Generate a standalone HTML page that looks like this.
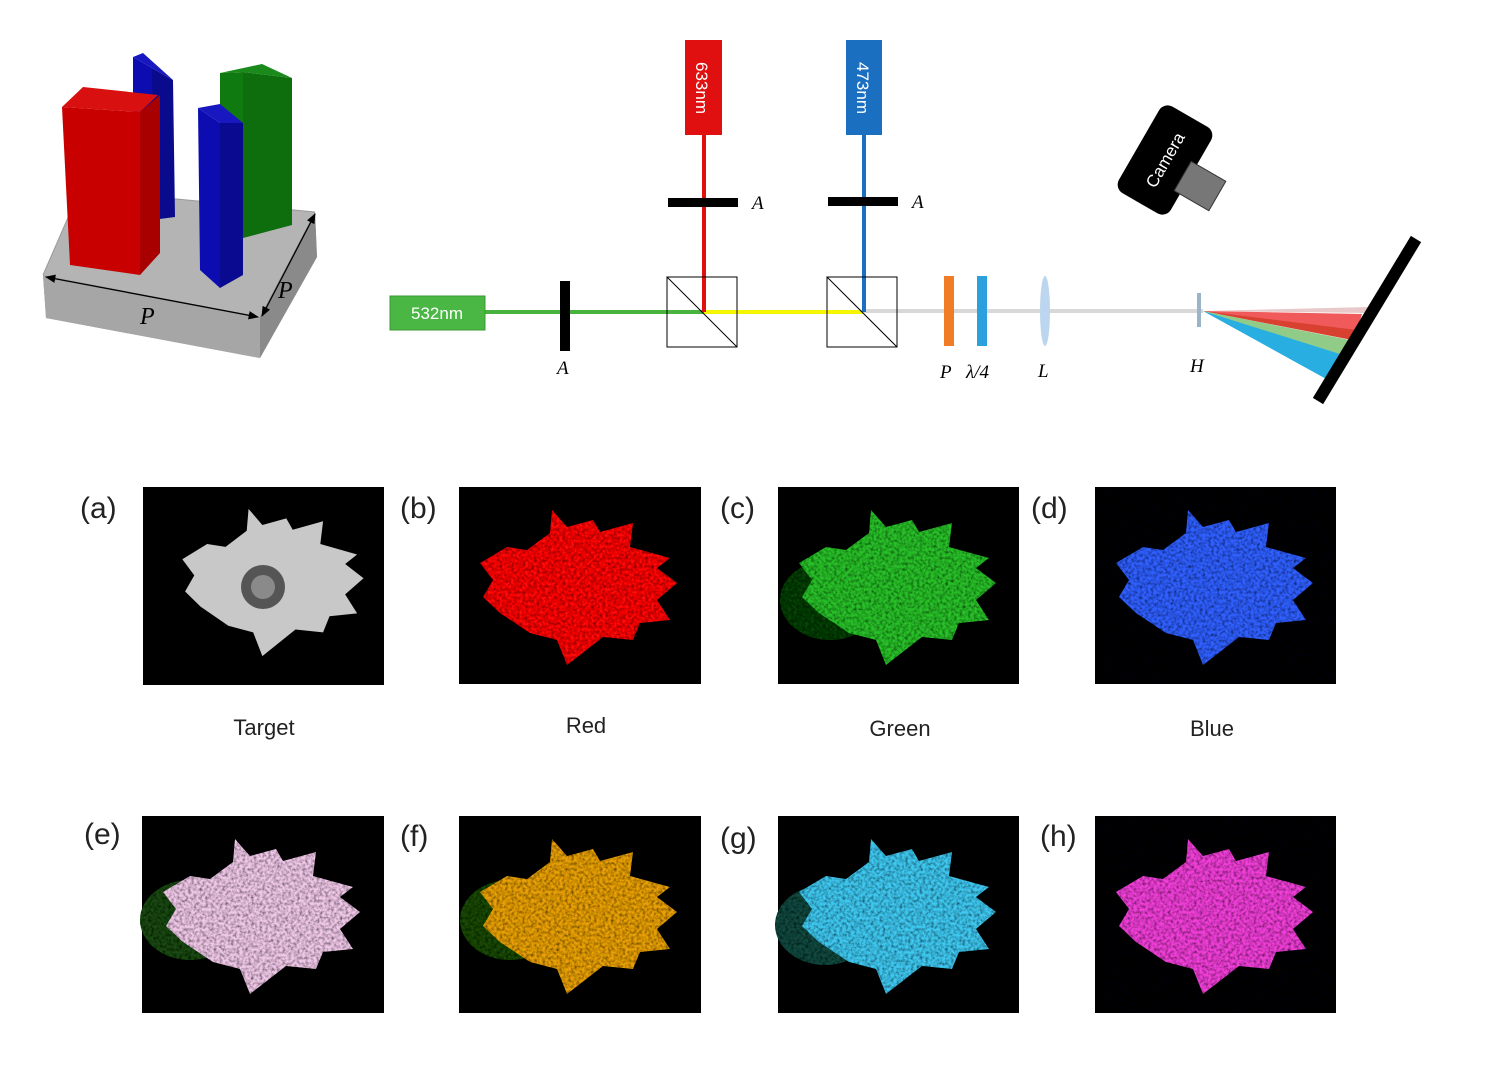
<!DOCTYPE html>
<html><head><meta charset="utf-8"><style>
html,body{margin:0;padding:0;background:#fff;width:1500px;height:1082px;overflow:hidden}
svg{display:block}
</style></head><body>
<svg width="1500" height="1082" viewBox="0 0 1500 1082" xmlns="http://www.w3.org/2000/svg" font-family="Liberation Sans, sans-serif">
<defs>
<path id="fl" d="M93,23 L108,40 L134,33 L141,45 L174,36 L171,60 L211,71 L198,81 L218,96 L198,113 L211,133 L181,136 L174,153 L144,150 L108,178 L98,153 L71,146 L41,126 L24,110 L34,93 L21,76 L48,60 L68,63 L91,46 Z"/>
<filter id="nz" x="0" y="0" width="100%" height="100%">
<feTurbulence type="fractalNoise" baseFrequency="0.35" numOctaves="2" seed="3" result="t"/>
<feColorMatrix in="t" type="matrix" values="0 0 0 0 0  0 0 0 0 0  0 0 0 0 0  0 0 0 1.6 -0.55" result="m"/>
<feComposite in="m" in2="SourceGraphic" operator="in" result="d"/>
<feMerge><feMergeNode in="SourceGraphic"/><feMergeNode in="d"/></feMerge>
</filter>
<marker id="ar" viewBox="0 0 10 10" refX="9" refY="5" markerWidth="8" markerHeight="8" orient="auto-start-reverse"><path d="M0,1 L10,5 L0,9 Z" fill="#000"/></marker>
</defs>

<!-- metasurface unit -->
<polygon points="43,275 80,190 315,212 317,257 260,358 46,318" fill="#9a9a9a"/>
<polygon points="43,275 80,190 315,212 260,317" fill="#b4b4b4"/>
<polygon points="43,275 260,317 260,358 46,318" fill="#a6a6a6"/>
<polygon points="260,317 315,212 317,257 260,358" fill="#8a8a8a"/>
<polyline points="43,275 80,190 315,212" fill="none" stroke="#999" stroke-width="1"/>
<!-- back blue -->
<polygon points="133,57 152,68 152,220 133,215" fill="#0c0cb0"/>
<polygon points="152,68 173,80 175,217 152,220" fill="#0a0a8c"/>
<polygon points="133,57 143,53 173,80 152,68" fill="#1818c0"/>
<!-- green -->
<polygon points="220,73 243,72 243,238 220,238" fill="#0f7a0f"/>
<polygon points="243,72 292,78 292,225 243,238" fill="#0e6e0e"/>
<polygon points="220,73 262,64 292,78 243,72" fill="#1a8a1a"/>
<!-- red -->
<polygon points="62,107 140,112 140,275 70,265" fill="#c80000"/>
<polygon points="140,112 160,95 160,253 140,275" fill="#a80000"/>
<polygon points="62,107 83,87 158,95 140,112" fill="#d81010"/>
<!-- front blue -->
<polygon points="198,108 220,123 220,288 200,270" fill="#0c0cb0"/>
<polygon points="220,123 243,123 243,275 220,288" fill="#0a0a90"/>
<polygon points="198,108 220,104 243,123 220,123" fill="#1818c0"/>
<!-- dims -->
<line x1="46" y1="277" x2="258" y2="317" stroke="#000" stroke-width="1.3" marker-start="url(#ar)" marker-end="url(#ar)"/>
<line x1="262" y1="316" x2="315" y2="214" stroke="#000" stroke-width="1.3" marker-start="url(#ar)" marker-end="url(#ar)"/>
<text x="140" y="324" font-family="Liberation Serif, serif" font-style="italic" font-size="24">P</text>
<text x="278" y="298" font-family="Liberation Serif, serif" font-style="italic" font-size="24">P</text>

<!-- optics -->
<line x1="485" y1="312" x2="704" y2="312" stroke="#49b33f" stroke-width="4"/>
<line x1="704" y1="312" x2="864" y2="312" stroke="#f5f500" stroke-width="4"/>
<line x1="864" y1="311" x2="1203" y2="311" stroke="#d8d8d8" stroke-width="4"/>
<line x1="704" y1="135" x2="704" y2="312" stroke="#e01010" stroke-width="4"/>
<line x1="864" y1="135" x2="864" y2="312" stroke="#1a6fc0" stroke-width="4"/>
<rect x="390" y="296" width="95" height="34" fill="#4ab744" stroke="#3a9a35"/>
<text x="437" y="319" font-size="17" fill="#fff" text-anchor="middle">532nm</text>
<rect x="685" y="40" width="37" height="95" fill="#e01010"/>
<text transform="translate(696,88) rotate(90)" font-size="17" fill="#fff" text-anchor="middle">633nm</text>
<rect x="846" y="40" width="36" height="95" fill="#1a6fc0"/>
<text transform="translate(857,88) rotate(90)" font-size="17" fill="#fff" text-anchor="middle">473nm</text>
<rect x="560" y="281" width="10" height="70" fill="#000"/>
<rect x="668" y="198" width="70" height="9" fill="#000"/>
<rect x="828" y="197" width="70" height="9" fill="#000"/>
<g font-family="Liberation Serif, serif" font-style="italic" font-size="19">
<text x="557" y="374">A</text><text x="752" y="209">A</text><text x="912" y="208">A</text>
<text x="940" y="378">P</text><text x="966" y="378">λ/4</text><text x="1038" y="377">L</text><text x="1190" y="372">H</text>
</g>
<rect x="667" y="277" width="70" height="70" fill="none" stroke="#000"/>
<line x1="667" y1="277" x2="737" y2="347" stroke="#000"/>
<rect x="827" y="277" width="70" height="70" fill="none" stroke="#000"/>
<line x1="827" y1="277" x2="897" y2="347" stroke="#000"/>
<rect x="944" y="276" width="10" height="70" fill="#f07c28"/>
<rect x="977" y="276" width="10" height="70" fill="#2aa0dc"/>
<ellipse cx="1045" cy="311" rx="5" ry="35" fill="#bcd6ef"/>
<rect x="1197" y="293" width="4" height="34" fill="#9ab4c8"/>
<!-- fan -->
<polygon points="1203,311 1370,307 1368,313" fill="#e8c8c8"/>
<polygon points="1203,311 1362,314 1354,340" fill="#f05a5a"/>
<polygon points="1203,311 1357,330 1352,340" fill="#d84030"/>
<polygon points="1203,311 1350,340 1343,356" fill="#90cc88"/>
<polygon points="1203,311 1343,355 1328,380" fill="#28aee0"/>
<line x1="1416" y1="239" x2="1318" y2="401" stroke="#000" stroke-width="12"/>
<!-- camera -->
<g transform="translate(1165,160) rotate(-60)">
<rect x="-50" y="-30" width="100" height="60" rx="10" fill="#000"/>
<text x="0" y="6" font-size="17" fill="#fff" text-anchor="middle">Camera</text>
</g>
<g transform="translate(1200,186) rotate(30)"><rect x="-20" y="-17" width="40" height="34" fill="#777" stroke="#333"/></g>

<!-- panels -->
<g font-size="30" fill="#222">
<text x="80" y="518">(a)</text><text x="400" y="518">(b)</text><text x="720" y="518">(c)</text><text x="1031" y="518">(d)</text>
<text x="84" y="844">(e)</text><text x="400" y="846">(f)</text><text x="720" y="848">(g)</text><text x="1040" y="846">(h)</text>
</g>
<g font-size="22" fill="#222" text-anchor="middle">
<text x="264" y="735">Target</text><text x="586" y="733">Red</text><text x="900" y="736">Green</text><text x="1212" y="736">Blue</text>
</g>

<!-- (a) -->
<rect x="143" y="487" width="241" height="198" fill="#000"/>
<g transform="translate(143,487)">
<use href="#fl" transform="translate(20,0) scale(0.92,0.95)" fill="#c8c8c8"/>
<circle cx="120" cy="100" r="22" fill="#555"/><circle cx="120" cy="100" r="12" fill="#8a8a8a"/>
</g>
<!-- row1 -->
<g filter="url(#nz)">
<rect x="459" y="487" width="242" height="197" fill="#050000"/>
<use href="#fl" x="459" y="487" fill="#ff1010"/>
<rect x="778" y="487" width="241" height="197" fill="#000500"/>
<ellipse cx="830" cy="600" rx="50" ry="40" fill="#0f3f0c"/>
<use href="#fl" x="778" y="487" fill="#2cc02c"/>
<rect x="1095" y="487" width="241" height="197" fill="#000010"/>
<use href="#fl" x="1095" y="487" fill="#3060ff"/>
<!-- row2 -->
<rect x="142" y="816" width="242" height="197" fill="#000"/>
<ellipse cx="190" cy="920" rx="50" ry="40" fill="#1a4a18"/>
<use href="#fl" x="142" y="816" fill="#f0c8e8"/>
<rect x="459" y="816" width="242" height="197" fill="#000"/>
<ellipse cx="510" cy="920" rx="50" ry="40" fill="#1a4a10"/>
<use href="#fl" x="459" y="816" fill="#e8a010"/>
<rect x="778" y="816" width="241" height="197" fill="#000"/>
<ellipse cx="825" cy="925" rx="50" ry="40" fill="#124a40"/>
<use href="#fl" x="778" y="816" fill="#40c8f0"/>
<rect x="1095" y="816" width="241" height="197" fill="#05000a"/>
<use href="#fl" x="1095" y="816" fill="#f040d8"/>
</g>
</svg>
</body></html>
